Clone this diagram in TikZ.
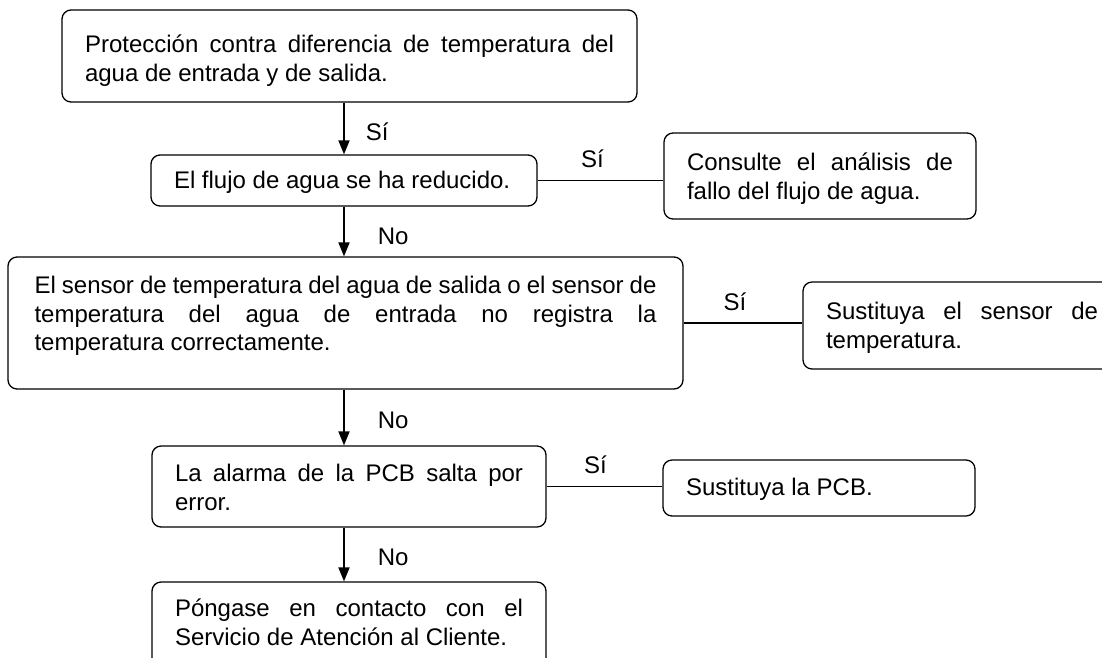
\documentclass[tikz,border=0pt]{standalone}
\usepackage{fontspec}
\setmainfont{Liberation Sans}
\usetikzlibrary{arrows.meta}

% text of a box: width, height, space above the first line, text
\newcommand{\cuadro}[4]{\parbox[c][#2][t]{#1}{\sloppy\hyphenpenalty=10000\vspace*{#3}\strut #4}}

\begin{document}
\begin{tikzpicture}[x=1pt, y=-1pt, >={Triangle[length=14pt,width=11pt]},
    caja/.style={draw, line width=1.3pt, rounded corners=9pt, inner sep=0pt,
      font=\fontsize{24}{28.5}\selectfont},
    flecha/.style={->, line width=1.8pt},
    enlace/.style={line width=1.2pt},
    rotulo/.style={inner sep=0pt, font=\fontsize{24}{28.5}\selectfont}]
  \useasboundingbox (0,0) rectangle (1102,657);

  \node[caja, minimum width=575pt] (prot) at (349.5,56)
    {\cuadro{529pt}{92pt}{23pt}{Protección contra diferencia de temperatura del agua de entrada y de salida.}};
  \node[caja, minimum width=386pt] (flujo) at (344,180.5)
    {\cuadro{340pt}{51pt}{14pt}{El flujo de agua se ha reducido.}};
  \node[caja, minimum width=312pt] (consulte) at (820,176)
    {\cuadro{266pt}{86pt}{18pt}{Consulte el análisis de fallo del flujo de agua.}};
  \node[caja, minimum width=675pt] (sensor) at (345.5,323)
    {\cuadro{622pt}{132pt}{17pt}{El sensor de temperatura del agua de salida o el sensor de\linebreak
      temperatura del agua de entrada no registra la\linebreak temperatura correctamente.}};
  \node[caja, minimum width=318pt] (sustituya) at (962,325.5)
    {\cuadro{272pt}{87pt}{18pt}{Sustituya el sensor de temperatura.}};
  \node[caja, minimum width=394pt] (alarma) at (349,486.5)
    {\cuadro{348pt}{81pt}{16pt}{La alarma de la PCB salta por error.}};
  \node[caja, minimum width=312pt] (pcb) at (819,488)
    {\cuadro{266pt}{56pt}{16pt}{Sustituya la PCB.}};
  \node[caja, minimum width=394pt] (contacto) at (349,626)
    {\cuadro{348pt}{88pt}{15pt}{Póngase en contacto con el Servicio de Atención al Cliente.}};

  \draw[flecha] (prot.south -| flujo.north) -- (flujo.north)
    node[rotulo, midway, anchor=west, xshift=21pt, yshift=-3pt] (si1) {Sí};
  \draw[flecha] (flujo.south) -- (flujo.south |- sensor.north)
    node[rotulo, midway, anchor=west, xshift=33pt, yshift=-5pt] (no1) {No};
  \draw[flecha] (flujo.south |- sensor.south) -- (flujo.south |- alarma.north)
    node[rotulo, midway, anchor=west, xshift=33pt, yshift=-3pt] (no2) {No};
  \draw[flecha] (flujo.south |- alarma.south) -- (flujo.south |- contacto.north)
    node[rotulo, midway, anchor=west, xshift=33pt, yshift=-3pt] (no3) {No};

  \draw[enlace] (flujo.east) -- (flujo.east -| consulte.west)
    node[rotulo, midway, above=12pt, xshift=-8pt] (si2) {Sí};
  \draw[enlace] (sensor.east) -- (sensor.east -| sustituya.west)
    node[rotulo, midway, above=12pt, xshift=-8pt] (si3) {Sí};
  \draw[enlace] (alarma.east) -- (alarma.east -| pcb.west)
    node[rotulo, midway, above=12pt, xshift=-9pt] (si4) {Sí};
\end{tikzpicture}
\end{document}
